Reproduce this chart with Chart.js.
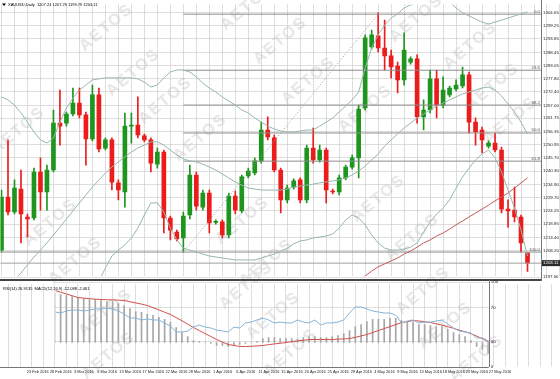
<!DOCTYPE html>
<html><head><meta charset="utf-8">
<script src="https://cdn.jsdelivr.net/npm/chart.js@4.4.1/dist/chart.umd.min.js"></script>
<style>
html,body{margin:0;padding:0;background:#fff;}
#wrap{position:relative;width:560px;height:379px;overflow:hidden;background:#fff;}
.wm{position:absolute;font:bold 16px "Liberation Sans",Arial,sans-serif;color:#e7e7e7;letter-spacing:2px;white-space:nowrap;transform:translate(-50%,-50%) rotate(-40deg);}
canvas{position:absolute;left:0;}
</style></head><body>
<div id="wrap">
<canvas id="main" width="560" height="281" style="top:0px"></canvas>
<canvas id="sub" width="560" height="99" style="top:280px"></canvas>
</div>
<script>
// ---------------- DATA ----------------
const dates = ["23 Feb 2016","24 Feb 2016","25 Feb 2016","26 Feb 2016","28 Feb 2016","29 Feb 2016","1 Mar 2016","2 Mar 2016","3 Mar 2016","4 Mar 2016",
"6 Mar 2016","7 Mar 2016","8 Mar 2016","9 Mar 2016","10 Mar 2016","11 Mar 2016","13 Mar 2016","14 Mar 2016","15 Mar 2016","16 Mar 2016",
"17 Mar 2016","18 Mar 2016","20 Mar 2016","21 Mar 2016","22 Mar 2016","23 Mar 2016","24 Mar 2016","27 Mar 2016","28 Mar 2016","29 Mar 2016",
"30 Mar 2016","31 Mar 2016","1 Apr 2016","3 Apr 2016","4 Apr 2016","5 Apr 2016","6 Apr 2016","7 Apr 2016","8 Apr 2016","10 Apr 2016",
"11 Apr 2016","12 Apr 2016","13 Apr 2016","14 Apr 2016","15 Apr 2016","17 Apr 2016","18 Apr 2016","19 Apr 2016","20 Apr 2016","21 Apr 2016",
"22 Apr 2016","24 Apr 2016","25 Apr 2016","26 Apr 2016","27 Apr 2016","28 Apr 2016","29 Apr 2016","1 May 2016","2 May 2016","3 May 2016",
"4 May 2016","5 May 2016","6 May 2016","8 May 2016","9 May 2016","10 May 2016","11 May 2016","12 May 2016","13 May 2016","15 May 2016",
"16 May 2016","17 May 2016","18 May 2016","19 May 2016","20 May 2016","22 May 2016","23 May 2016","24 May 2016","25 May 2016","26 May 2016",
"27 May 2016","29 May 2016"];

const opens = [1208.4,1229.9,1223.8,1233.1,1221.8,1221.4,1240.0,1231.9,1240.8,1259.8,
1259.8,1263.5,1267.9,1263.1,1253.4,1271.2,1249.7,1253.0,1235.6,1231.9,
1258.6,1259.0,1254.6,1253.0,1243.2,1248.1,1221.4,1215.7,1213.3,1222.6,
1238.8,1225.8,1231.5,1219.6,1219.8,1214.5,1230.3,1224.2,1238.4,1239.6,
1244.5,1257.0,1253.8,1240.8,1228.7,1233.9,1236.8,1228.7,1249.7,1244.9,
1248.9,1232.3,1231.9,1237.6,1242.0,1245.7,1265.9,1290.6,1295.1,1290.2,
1287.0,1282.9,1277.3,1284.5,1285.8,1262.3,1265.1,1277.7,1267.1,1271.2,
1273.6,1274.8,1279.3,1260.2,1257.0,1250.5,1251.7,1248.9,1225.0,1224.6,
1221.8,1207.24];
const highs = [1232.7,1253.0,1236.8,1240.8,1223.0,1241.6,1245.7,1242.8,1265.1,1273.2,
1264.3,1274.0,1274.0,1264.3,1275.2,1274.0,1253.8,1253.8,1236.8,1263.9,
1263.9,1270.4,1255.4,1253.8,1249.7,1248.9,1222.2,1216.5,1223.8,1242.8,
1240.0,1232.7,1232.7,1220.6,1220.6,1231.5,1232.3,1238.8,1241.6,1245.7,
1260.2,1262.3,1255.0,1241.6,1234.7,1237.2,1237.6,1250.9,1257.8,1250.9,
1249.7,1233.1,1238.8,1242.8,1246.9,1267.1,1295.5,1297.5,1304.4,1301.5,
1289.4,1284.5,1296.3,1286.6,1287.4,1269.2,1281.3,1281.3,1278.5,1274.8,
1277.3,1282.5,1280.5,1261.9,1258.2,1252.6,1255.8,1250.1,1228.7,1233.9,
1222.6,1207.29];
const lows = [1207.6,1222.6,1223.0,1211.3,1213.7,1220.6,1224.6,1224.6,1240.0,1250.9,
1258.6,1262.7,1261.9,1242.8,1252.6,1248.1,1248.9,1232.7,1228.7,1225.8,
1251.7,1253.8,1252.2,1240.0,1241.6,1215.3,1212.5,1212.1,1207.6,1221.0,
1224.6,1224.6,1215.3,1218.9,1213.3,1213.3,1223.0,1223.4,1237.6,1238.8,
1243.6,1253.0,1240.0,1223.4,1227.5,1233.1,1227.5,1227.5,1243.6,1244.0,
1227.5,1231.1,1230.7,1236.8,1241.2,1237.6,1265.1,1289.8,1288.6,1281.3,
1278.1,1272.0,1275.2,1283.7,1259.8,1257.0,1263.9,1261.9,1265.9,1270.4,
1272.8,1274.0,1255.8,1250.9,1247.7,1249.7,1248.1,1223.4,1217.7,1219.8,
1207.6,1199.79];
const closes = [1229.9,1223.8,1233.5,1223.0,1221.0,1240.0,1231.9,1240.8,1259.8,1258.6,
1263.5,1267.9,1263.1,1253.4,1271.2,1249.3,1253.0,1235.9,1232.7,1258.6,
1259.0,1255.0,1253.0,1243.6,1248.1,1221.4,1216.5,1212.9,1222.2,1238.8,
1226.2,1231.5,1219.4,1220.0,1214.5,1230.3,1224.6,1238.0,1240.4,1244.5,
1257.0,1254.2,1240.8,1228.7,1233.5,1236.4,1228.7,1249.7,1244.9,1248.9,
1232.7,1231.9,1237.6,1242.0,1245.7,1265.5,1294.3,1295.5,1290.2,1287.0,
1282.5,1277.3,1289.4,1285.8,1262.3,1265.1,1277.7,1267.1,1273.2,1274.0,
1275.2,1279.3,1260.2,1256.2,1253.0,1251.7,1248.9,1225.0,1224.2,1221.8,
1211.3,1203.11];

const bbUpper = [1270.4,1269.2,1267.1,1263.9,1260.2,1256.2,1253.0,1251.7,1253.8,1260.2,
1265.9,1269.9,1273.2,1275.2,1277.3,1277.7,1278.1,1278.1,1278.1,1278.1,
1278.1,1277.7,1276.4,1274.4,1275.2,1278.1,1280.5,1281.3,1281.3,1280.5,
1278.5,1276.0,1274.0,1272.4,1270.4,1268.7,1267.1,1265.1,1263.9,1261.9,
1260.2,1258.6,1257.4,1256.6,1256.2,1256.2,1256.6,1257.0,1257.0,1258.6,
1260.2,1261.9,1264.3,1266.7,1269.2,1272.4,1282.1,1290.2,1295.5,1299.5,
1302.3,1304.0,1306.4,1307.6,1308.4,1308.8,1309.2,1309.6,1309.6,1308.8,
1306.4,1304.4,1303.2,1301.9,1300.7,1299.9,1300.7,1301.5,1302.3,1303.2,
1304.0,1304.8];
const bbMiddle = [1191.4,1193.5,1196.3,1199.1,1202.4,1205.6,1208.4,1211.3,1214.5,1217.7,
1221.0,1224.2,1227.5,1230.7,1233.9,1236.8,1239.6,1242.0,1244.1,1246.1,
1248.1,1249.7,1250.9,1252.2,1252.2,1250.9,1248.9,1246.9,1245.3,1244.5,
1244.1,1243.2,1242.0,1240.8,1239.2,1237.6,1236.0,1234.7,1233.5,1233.1,
1232.7,1232.7,1232.7,1232.7,1233.1,1233.9,1234.3,1234.7,1235.1,1235.6,
1236.0,1236.4,1236.8,1237.6,1238.8,1240.4,1242.4,1244.9,1247.3,1250.5,
1253.0,1255.4,1257.8,1259.8,1261.9,1263.5,1265.1,1266.7,1267.9,1269.2,
1270.4,1271.6,1272.4,1273.2,1274.0,1274.4,1273.2,1270.8,1267.5,1264.3,
1260.2,1255.4];
const bbLower = [1112.5,1117.7,1125.4,1134.3,1144.5,1155.0,1163.9,1170.8,1175.2,1175.2,
1176.0,1178.5,1181.7,1186.2,1190.6,1195.9,1201.1,1206.0,1208.4,1210.5,
1213.3,1217.3,1222.6,1227.5,1227.5,1223.8,1217.3,1212.5,1209.2,1208.4,
1207.6,1206.8,1206.0,1205.6,1205.2,1204.8,1204.4,1204.4,1204.4,1204.4,
1205.2,1206.0,1206.8,1208.0,1209.2,1210.9,1212.1,1212.5,1213.3,1213.7,
1214.1,1214.9,1217.3,1220.6,1222.6,1221.4,1218.6,1214.5,1211.3,1209.2,
1208.4,1208.4,1208.8,1209.6,1211.3,1215.7,1219.8,1223.0,1225.4,1228.7,
1233.5,1238.0,1241.6,1244.9,1247.3,1248.9,1245.7,1240.0,1232.7,1225.4,
1216.5,1206.0];
const maLine = [null,null,null,null,null,null,null,null,null,null,
null,null,null,null,null,null,null,null,null,null,
null,null,null,null,null,null,null,null,null,null,
null,null,null,null,null,null,null,null,null,null,
null,null,null,null,null,null,null,null,1188.2,1189.8,
1191.0,1192.2,1193.0,1194.3,1195.1,1196.3,1197.9,1199.9,1201.6,1202.8,
1204.0,1205.2,1206.8,1208.0,1209.6,1211.3,1212.5,1214.1,1215.3,1216.9,
1218.6,1220.2,1221.8,1223.4,1225.0,1226.6,1228.3,1229.9,1231.5,1233.5,
1235.6,1237.6];

const fibNames  = ["0.0","23.6","38.2","50.0","61.8","100.0"];
const fibLevels = [1303.9,1281.2,1267.1,1255.8,1244.4,1207.6];
const fibAnchors = [28, 58];
const fibAnchorPrices = [1207.6, 1303.9];
const lastPrice = 1203.11;
const priceTicks = [1304.65,1299.25,1293.85,1288.45,1283.05,1277.80,1272.40,1267.00,1261.75,1256.35,
1250.95,1245.70,1240.30,1234.90,1229.70,1224.25,1218.85,1213.40,1208.20,1197.50];

const rsi = [64.7,63.5,65.9,67.0,64.7,63.5,65.9,67.0,67.0,65.9,
67.0,68.2,68.2,69.4,68.2,65.9,62.4,57.6,57.6,55.3,
56.5,55.3,55.3,51.8,48.2,41.2,41.2,42.4,47.0,49.4,
47.0,45.9,43.5,42.4,41.2,47.0,45.9,51.8,52.9,55.3,
57.6,55.3,51.8,52.9,51.8,51.8,55.3,52.9,51.8,55.3,
49.4,51.8,51.8,52.9,55.3,63.5,70.6,70.6,68.2,65.9,
64.7,63.5,63.5,61.0,51.8,54.1,55.3,51.8,52.9,52.9,
54.1,55.3,50.6,45.9,42.4,41.2,40.0,34.1,34.1,30.6,
25.9,26.9];
const macdMain = [26.1,25.6,25.6,25.1,24.6,24.1,23.6,23.1,22.6,22.1,
21.6,21.6,21.1,20.6,20.6,19.6,18.6,17.1,15.6,15.1,
14.1,13.6,12.6,11.6,10.1,7.5,5.0,3.0,1.0,0.5,
0.0,-0.5,-1.5,-1.5,-2.0,-1.5,-1.0,-0.5,0.0,0.5,
2.0,2.5,2.5,2.0,2.0,2.0,1.5,2.5,3.0,3.0,
2.5,2.5,3.0,3.5,4.5,6.0,8.0,9.0,10.5,11.6,
11.6,11.6,12.1,12.1,11.1,10.1,10.1,9.0,9.0,8.5,
8.0,8.0,6.5,5.0,4.0,3.0,1.0,-2.0,-3.5,-5.5,
-8.5,-12.09];
const macdSignal = [28.6,28.0,27.4,26.8,26.1,25.3,24.4,23.5,22.6,22.3,
22.0,21.8,21.6,21.5,21.4,21.3,21.1,20.5,19.9,19.3,
18.6,17.5,16.4,15.2,14.1,12.5,10.9,9.2,7.5,6.0,
4.5,3.0,1.5,0.2,-1.0,-1.5,-2.0,-2.0,-1.9,-1.7,
-1.5,-1.1,-0.7,-0.4,0.0,0.4,0.8,1.1,1.5,1.5,
1.5,1.5,1.5,1.7,1.8,2.0,2.6,3.3,4.0,5.0,
6.0,7.0,8.0,9.0,10.0,10.5,11.0,10.8,10.5,10.0,
9.4,8.7,8.0,7.1,6.2,5.4,4.5,3.2,1.9,0.5,
-1.0,-2.46];
const rsiTicks = [0,30,70,100];

const headerMain = "XAUUSD,Daily  1207.24 1207.29 1199.79 1203.11";
const headerSub  = "RSI(14) 26.9135  MACD(12,26,9) -12.088 -2.461";

[opens,highs,lows,closes,bbUpper,bbMiddle,bbLower,maLine,rsi,macdMain,macdSignal].forEach((a,k)=>{
  if (a.length !== dates.length) throw new Error("length mismatch in array #"+k+": "+a.length);
});

// ---------------- LAYOUT / STYLE ----------------
const BAR_PX = 6.5, FIRST_X = 1;
const PRICE_AT_Y0 = 1309.63, PRICE_PER_PX = 0.4048;
const SUB_TOP = 280;
const RSI_Y100 = 282, RSI_PX = 0.85;
const MACD_ZERO_Y = 342.5, MACD_PX = 1.99;
const LABEL_OFFSET_PX = 6;
const GRID = '#bdbdbd';
const GREEN = '#1e951e', RED = '#ec1c1c', BB = '#97b7ad', MA = '#c25b57';
const FONT_Y = {family:'"Liberation Sans", Arial, sans-serif', size:4.4};
const FONT_X = {family:'"Liberation Sans", Arial, sans-serif', size:3.9};

const wmPos = [[106,27],[133,72],[247,6],[280,40],[308,80],[416,18],[470,45],[492,86],[18,130],[165,100],[200,137],[365,108],[510,120],[50,222],[75,260],[242,220],[266,262],[378,198],[412,237],[105,312],[108,355],[246,285],[273,315],[290,352],[423,290],[445,325],[476,358]];
const wrap = document.getElementById('wrap');
wmPos.forEach(([x,y])=>{
  const d = document.createElement('div'); d.className='wm'; d.textContent='AETOS';
  d.style.left = x+'px'; d.style.top = y+'px'; wrap.insertBefore(d, wrap.firstChild);
});

const idx = dates.map((_,i)=>i);
const candleColors = idx.map(i => closes[i] >= opens[i] ? GREEN : RED);
const gridXs = []; for (let v=-4; v<=90; v+=2) gridXs.push(v);
const xTickCb = (value) => { const i = Math.round(value); return (i>=0 && i<dates.length && i%4===0) ? dates[i] : ''; };
const lineDs = (data, color, extra) => Object.assign({type:'line', data, borderColor:color, borderWidth:1, pointRadius:0, fill:false, tension:0, order:0}, extra||{});

// ---------------- MAIN CHART ----------------
const mainPlugin = {
  id:'mainDeco',
  afterDraw(chart){
    const {ctx, chartArea:a, scales:{y}} = chart;
    ctx.save();
    ctx.font = '4.4px "Liberation Sans", Arial, sans-serif';
    ctx.fillStyle = '#555'; ctx.textAlign='right'; ctx.textBaseline='bottom';
    fibLevels.forEach((v,k)=>{ ctx.fillText(fibNames[k], a.right-1, y.getPixelForValue(v)-0.5); });
    const py = y.getPixelForValue(lastPrice);
    ctx.fillStyle = '#2a2a2a'; ctx.fillRect(a.right, py-3, 560-a.right, 6);
    ctx.fillStyle = '#fff'; ctx.textAlign='left'; ctx.textBaseline='middle';
    ctx.fillText(lastPrice.toFixed(2), a.right+2, py);
    ctx.fillStyle = '#000';
    ctx.beginPath(); ctx.moveTo(2,3.5); ctx.lineTo(6,3.5); ctx.lineTo(4,6); ctx.closePath(); ctx.fill();
    ctx.font = '4px "Liberation Sans", Arial, sans-serif';
    ctx.textAlign='left'; ctx.fillText(headerMain, 8, 5);
    ctx.strokeStyle = '#777'; ctx.lineWidth = 1;
    ctx.beginPath(); ctx.moveTo(Math.round(a.right)+0.5, 0); ctx.lineTo(Math.round(a.right)+0.5, 281); ctx.stroke();
    ctx.strokeStyle = '#444'; ctx.lineWidth = 2;
    ctx.beginPath(); ctx.moveTo(0, 280); ctx.lineTo(a.right, 280); ctx.stroke();
    ctx.restore();
  }
};

const main = new Chart(document.getElementById('main'), {
  type:'bar',
  data:{datasets:[
    lineDs(idx.map(i=>({x:i,y:bbUpper[i]})), BB),
    lineDs(idx.map(i=>({x:i,y:bbMiddle[i]})), BB),
    lineDs(idx.map(i=>({x:i,y:bbLower[i]})), BB),
    lineDs(idx.filter(i=>maLine[i]!==null).map(i=>({x:i,y:maLine[i]})), MA),
    lineDs([{x:fibAnchors[0],y:fibAnchorPrices[0]},{x:fibAnchors[1],y:fibAnchorPrices[1]}], '#9a9a9a', {borderDash:[1,2]}),
    ...fibLevels.map((v,k)=>lineDs([{x:(k===fibLevels.length-1? -5 : fibAnchors[0]), y:v},{x:200,y:v}], '#8c8c8c')),
    lineDs([{x:-5,y:lastPrice},{x:200,y:lastPrice}], '#a0a0a0'),
    {type:'bar', data: idx.map(i=>({x:i, y:[lows[i], highs[i]]})), backgroundColor:candleColors, barThickness:1, grouped:false, order:2, borderWidth:0},
    {type:'bar', data: idx.map(i=>({x:i, y:[opens[i], closes[i]]})), backgroundColor:candleColors, barThickness:4, minBarLength:1, grouped:false, order:1, borderWidth:0}
  ]},
  options:{
    responsive:false, animation:false, events:[],
    layout:{padding:0},
    plugins:{legend:{display:false}, tooltip:{enabled:false}},
    scales:{
      x:{type:'linear', min:0, max:83, offset:false,
         grid:{offset:false, color:GRID, lineWidth:1, drawTicks:false},
         border:{display:false, dash:[1,1]},
         ticks:{display:false},
         afterBuildTicks:s=>{ s.ticks = gridXs.map(v=>({value:v})); },
         afterFit:s=>{ s.height = 0; }},
      y:{type:'linear', position:'right', min:1196, max:1310,
         grid:{color:GRID, lineWidth:1, drawTicks:false},
         border:{display:false, dash:[1,1]},
         ticks:{font:FONT_Y, color:'#222', padding:2, callback:v=>Number(v).toFixed(2)},
         afterBuildTicks:s=>{ s.ticks = priceTicks.map(v=>({value:v})); },
         afterFit:s=>{ s.width = 19; }}
    }
  },
  plugins:[mainPlugin]
});
{
  const a = main.chartArea;
  main.options.scales.x.min = (a.left - FIRST_X)/BAR_PX;
  main.options.scales.x.max = (a.right - FIRST_X)/BAR_PX;
  main.options.scales.y.max = PRICE_AT_Y0 - PRICE_PER_PX*a.top;
  main.options.scales.y.min = PRICE_AT_Y0 - PRICE_PER_PX*a.bottom;
  main.update();
}

// ---------------- SUB CHART ----------------
const subPlugin = {
  id:'subDeco',
  afterDraw(chart){
    const {ctx, chartArea:a} = chart;
    ctx.save();
    ctx.font = '4px "Liberation Sans", Arial, sans-serif';
    ctx.fillStyle = '#000'; ctx.textAlign='left'; ctx.textBaseline='middle';
    ctx.fillText(headerSub, 3, a.top + 4);
    ctx.strokeStyle = '#777'; ctx.lineWidth = 1;
    ctx.beginPath(); ctx.moveTo(Math.round(a.right)+0.5, 0); ctx.lineTo(Math.round(a.right)+0.5, a.bottom); ctx.stroke();
    ctx.beginPath(); ctx.moveTo(0, Math.round(a.bottom)+0.5); ctx.lineTo(a.right, Math.round(a.bottom)+0.5); ctx.stroke();
    ctx.restore();
  }
};

const sub = new Chart(document.getElementById('sub'), {
  type:'bar',
  data:{datasets:[
    lineDs(idx.map(i=>({x:i,y:rsi[i]})), '#86b4d8', {yAxisID:'yR'}),
    lineDs(idx.map(i=>({x:i,y:macdSignal[i]})), '#d0504a', {yAxisID:'yM'}),
    {type:'bar', data: idx.map(i=>({x:i, y:macdMain[i]})), yAxisID:'yM', backgroundColor:'#a6a6a6', barThickness:1, grouped:false, order:1, borderWidth:0}
  ]},
  options:{
    responsive:false, animation:false, events:[],
    layout:{padding:0},
    plugins:{legend:{display:false}, tooltip:{enabled:false}},
    scales:{
      x:{type:'linear', min:0, max:83, offset:false,
         grid:{offset:false, color:GRID, lineWidth:1, drawTicks:false},
         border:{display:false, dash:[1,1]},
         ticks:{font:FONT_X, color:'#222', padding:3, labelOffset:LABEL_OFFSET_PX, autoSkip:false, maxRotation:0, minRotation:0, callback:xTickCb},
         afterBuildTicks:s=>{ s.ticks = gridXs.map(v=>({value:v})); },
         afterFit:s=>{ s.height = 12; }},
      yR:{type:'linear', position:'right', min:0, max:100,
         grid:{color:GRID, lineWidth:1, drawTicks:false},
         border:{display:false, dash:[1,1]},
         ticks:{font:FONT_Y, color:'#222', padding:2},
         afterBuildTicks:s=>{ s.ticks = rsiTicks.map(v=>({value:v})); },
         afterFit:s=>{ s.width = 19; }},
      yM:{type:'linear', display:false, min:-12.5, max:30}
    }
  },
  plugins:[subPlugin]
});
{
  const a = sub.chartArea;
  sub.options.scales.x.min = (a.left - FIRST_X)/BAR_PX;
  sub.options.scales.x.max = (a.right - FIRST_X)/BAR_PX;
  const t = a.top + SUB_TOP, b = a.bottom + SUB_TOP;
  sub.options.scales.yR.max = (RSI_Y100 + 100*RSI_PX - t)/RSI_PX;
  sub.options.scales.yR.min = (RSI_Y100 + 100*RSI_PX - b)/RSI_PX;
  sub.options.scales.yM.max = (MACD_ZERO_Y - t)/MACD_PX;
  sub.options.scales.yM.min = (MACD_ZERO_Y - b)/MACD_PX;
  sub.update();
}
</script>
</body></html>
